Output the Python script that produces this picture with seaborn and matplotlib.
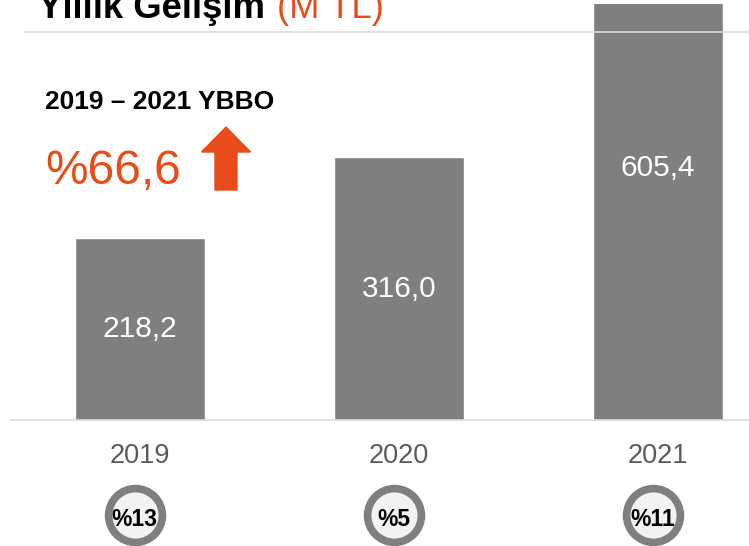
import numpy as np
import pandas as pd
import seaborn as sns
from matplotlib import pyplot as plt
from matplotlib.patches import FancyArrow

years = ['2019', '2020', '2021']
values = [218.2, 316.0, 605.4]
shares = ['%13', '%5', '%11']
cagr_title = '2019 – 2021 YBBO'
cagr_value = '%66,6'

sns.set_style('white')
plt.rcParams['font.family'] = ['Liberation Sans', 'DejaVu Sans']

orange = '#E84C1A'
grey = '#7f7f7f'
line_c = '#d9d9d9'

df = pd.DataFrame({'yil': years, 'deger': values})

fig = plt.figure(figsize=(7.49, 5.46), dpi=100)
ax = fig.add_axes([11/749, 126/546, 738/749, 416/546])
sns.barplot(data=df, x='yil', y='deger', color=grey, saturation=1, width=0.5, ax=ax, zorder=2)
ax.set_ylim(0, 500)
ax.set_xlim(-0.498, 2.351)
ax.set_xlabel('')
ax.set_ylabel('')
ax.set_yticks([])
for s in ['top', 'left', 'right']:
    ax.spines[s].set_visible(False)
ax.spines['bottom'].set_color(line_c)
ax.spines['bottom'].set_linewidth(1.2)
ax.tick_params(axis='x', length=0, pad=16.5, labelsize=19.5, labelcolor='#595959')

# ince ust cizgi
ax.plot([-0.444, 2.351], [466, 466], color=line_c, lw=1.2, zorder=5, clip_on=False)

# bar etiketleri
for i, v in enumerate(values):
    ax.text(i, v / 2, f'{v:.1f}'.replace('.', ','), ha='center', va='center',
            color='white', fontsize=21.5, zorder=4)

# pay daireleri
xs = np.arange(len(years)) - 0.02
ax.scatter(xs, [-114] * len(xs), s=1500, facecolor='#f2f2f2', edgecolor=grey,
           linewidth=5.5, clip_on=False, zorder=6)
for x, t in zip(xs, shares):
    ax.text(x, -120, t, ha='center', va='center', fontsize=16.5, fontweight='bold',
            color='black', clip_on=False, zorder=7)

# baslik
fig.text(38/749, 1 - 18/546, 'Yıllık Gelişim', fontsize=26.3, fontweight='bold',
         color='black', va='baseline', ha='left')
fig.text(277/749, 1 - 18/546, '(M TL)', fontsize=26.3, color=orange,
         va='baseline', ha='left')

fig.text(45/749, 1 - 109/546, cagr_title, fontsize=19, fontweight='bold',
         color='black', va='baseline', ha='left')
fig.text(45/749, 1 - 184/546, cagr_value, fontsize=34.5, color=orange,
         va='baseline', ha='left')

arrow = FancyArrow(2.26, (546 - 190) / 100, 0, 0.63, width=0.22, head_width=0.49,
                   head_length=0.25, length_includes_head=True, color=orange,
                   transform=fig.dpi_scale_trans)
fig.add_artist(arrow)

fig.savefig('out.png', dpi=100)
